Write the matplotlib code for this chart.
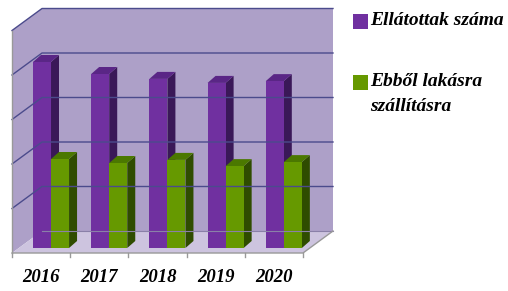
import matplotlib.pyplot as plt
from matplotlib.patches import Polygon, Rectangle

# data
years = ["2016", "2017", "2018", "2019", "2020"]
ellatottak = [418, 391, 380, 371, 375]
lakasra = [200, 191, 198, 184, 193]
labels = ["Ellátottak száma", "Ebből lakásra\nszállításra"]
step = 100
levels = 5

# colours
wall_c = "#ada0c8"
floor_c = "#cdc4df"
grid_c = "#4b4b8c"
purple = ("#7030a0", "#3a1858", "#5a2686")
green = ("#669900", "#2f4c00", "#4b7800")

W, H = 508, 291
px_x, px_y = 58.2, 44.5          # pixels per category / per step
x0_px, y0_px = 12, 253           # front-left corner of floor (pixels)

fig = plt.figure(figsize=(W / 100, H / 100), dpi=100)
ax = fig.add_axes([0, 0, 1, 1])
ax.set_xlim(-0.5 - x0_px / px_x, -0.5 + (W - x0_px) / px_x)
ax.set_ylim(-(H - y0_px) / px_y * step, y0_px / px_y * step)
ax.axis("off")

# wall depth offset and bar offsets (data units)
dx, dy = 30 / px_x, 22 / px_y * step
bx, by = 7 / px_x, 5 / px_y * step
ddx, ddy = 8 / px_x, 7 / px_y * step
top = levels * step
n = len(years)
xl, xr = -0.5, n - 0.5

# walls + floor
ax.add_patch(Polygon([(xl, 0), (xl, top), (xl + dx, top + dy), (xl + dx, dy)],
                     fc=wall_c, ec="none"))
ax.add_patch(Polygon([(xl + dx, dy), (xr + dx, dy), (xr + dx, top + dy), (xl + dx, top + dy)],
                     fc=wall_c, ec="none"))
ax.add_patch(Polygon([(xl, 0), (xr, 0), (xr + dx, dy), (xl + dx, dy)],
                     fc=floor_c, ec="none"))
for k in range(1, levels + 1):
    v = k * step
    ax.plot([xl, xl + dx, xr + dx], [v, v + dy, v + dy], color=grid_c, lw=1)
ax.plot([xl + dx, xr + dx], [dy, dy], color="#8a80a8", lw=0.8)
ax.plot([xl, xl], [0, top], color="#999999", lw=1)
ax.plot([xl, xr, xr + dx], [0, 0, dy], color="#999999", lw=1)
for k in range(n + 1):
    ax.plot([xl + k, xl + k], [0, -0.1 * step], color="#999999", lw=1)


def bar3d(x, w, v, cols):
    front, side, topc = cols
    x1, x2 = x + bx, x + bx + w
    b, t = by, by + v
    ax.add_patch(Polygon([(x2, b), (x2 + ddx, b + ddy), (x2 + ddx, t + ddy), (x2, t)],
                         fc=side, ec="none"))
    ax.add_patch(Polygon([(x1, t), (x2, t), (x2 + ddx, t + ddy), (x1 + ddx, t + ddy)],
                         fc=topc, ec="none"))
    ax.add_patch(Rectangle((x1, b), w, v, fc=front, ec="none"))


bw = 0.31
for i in range(n):
    bar3d(i - 0.26, bw, ellatottak[i], purple)
    bar3d(i + 0.05, bw, lakasra[i], green)
    ax.text(i, -0.54 * step, years[i], ha="center", va="center",
            family="Liberation Serif", weight="bold", style="italic", fontsize=13.5)

# legend
for j, (lab, col, yy) in enumerate(zip(labels, [purple[0], green[0]], [21.5, 82.5])):
    fig.patches.append(Rectangle((353 / W, 1 - (yy + 7.5) / H), 15 / W, 15 / H,
                                 transform=fig.transFigure, fc=col, ec="none"))
    fig.text(370 / W, 1 - (yy - 9.5) / H, lab, ha="left", va="top",
             family="Liberation Serif", weight="bold", style="italic",
             fontsize=14, linespacing=1.65)

fig.savefig("out.png", dpi=100)
